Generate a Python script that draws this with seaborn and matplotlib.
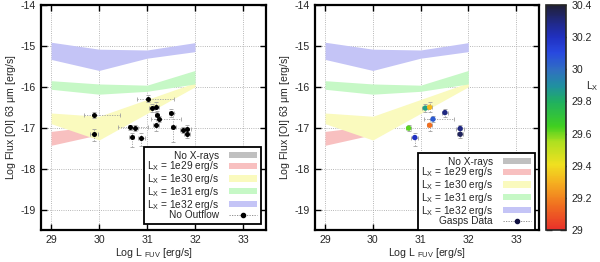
import numpy as np
import matplotlib
matplotlib.use('Agg')
import matplotlib.pyplot as plt
import seaborn as sns
import pandas as pd
from matplotlib.colors import LinearSegmentedColormap, Normalize
from matplotlib.patches import Patch
from matplotlib.lines import Line2D
from matplotlib.cm import ScalarMappable

# ---------------- data ----------------
band_x = [29, 30, 31, 32]
b32_hi = [-14.91, -15.08, -15.10, -14.92]
b32_lo = [-15.33, -15.60, -15.30, -15.14]
b31_hi = [-15.85, -15.93, -15.96, -15.60]
b31_lo = [-16.06, -16.18, -16.11, -15.93]
b30_x = [29, 30, 32]
b30_hi = [-16.64, -16.72, -15.90]
b30_lo = [-16.90, -17.30, -16.00]
b29_x = [29, 30]
b29_hi = [-17.09, -16.95]
b29_lo = [-17.43, -17.17]

lfuv = [29.90, 29.89, 31.01, 31.10, 31.19, 31.21, 31.26, 31.19, 31.51,
        31.55, 30.64, 30.75, 30.68, 30.88, 31.76, 31.83, 31.83]
flux = [-16.69, -17.16, -16.29, -16.52, -16.50, -16.68, -16.79, -16.94, -16.63,
        -16.99, -16.99, -17.01, -17.23, -17.24, -17.05, -17.02, -17.16]
xerr_lo = [0.22, 0.08, 0.22, 0.06, 0.06, 0.05, 0.18, 0.06, 0.06,
           0.05, 0.24, 0.06, 0.05, 0.07, 0.08, 0.08, 0.06]
xerr_hi = [0.54, 0.08, 0.56, 0.06, 0.06, 0.05, 0.45, 0.06, 0.06,
           0.05, 0.37, 0.06, 0.05, 0.07, 0.08, 0.08, 0.06]
yerr_lo = [0.07, 0.17, 0.08, 0.10, 0.12, 0.10, 0.08, 0.15, 0.10,
           0.35, 0.06, 0.08, 0.25, 0.20, 0.08, 0.08, 0.10]
yerr_hi = [0.07, 0.14, 0.08, 0.10, 0.12, 0.10, 0.08, 0.15, 0.10,
           0.35, 0.06, 0.08, 0.10, 0.10, 0.08, 0.08, 0.10]

gasps_idx = [3, 4, 8, 6, 7, 11, 13, 15, 16]
gasps_lx = [29.85, 29.32, 30.30, 30.05, 29.15, 29.62, 30.20, 30.30, 30.35]

xticks = [29, 30, 31, 32, 33]
yticks = [-14, -15, -16, -17, -18, -19]
cb_ticks = [29, 29.2, 29.4, 29.6, 29.8, 30, 30.2, 30.4]
cb_ticklabels = ['29', '29.2', '29.4', '29.6', '29.8', '30', '30.2', '30.4']

legend_labels = ['No X-rays',
                 r'L$_\mathrm{X}$ = 1e29 erg/s',
                 r'L$_\mathrm{X}$ = 1e30 erg/s',
                 r'L$_\mathrm{X}$ = 1e31 erg/s',
                 r'L$_\mathrm{X}$ = 1e32 erg/s']

# ---------------- style ----------------
sns.set_style('ticks')
plt.rcParams['font.family'] = ['Liberation Sans', 'DejaVu Sans']
plt.rcParams['mathtext.fontset'] = 'custom'
plt.rcParams['mathtext.rm'] = 'Liberation Sans'
plt.rcParams['mathtext.it'] = 'Liberation Sans:italic'
FS = 7.6
LFS = 7.3
plt.rcParams['font.size'] = FS

c_gray = '#c0c0c0'
c_red = '#f8c0c0'
c_yel = '#fafabe'
c_grn = '#c6f8c6'
c_blu = '#c4c4f6'

cmap = LinearSegmentedColormap.from_list('lx', [
    (0.0, '#e8302a'), (0.11, '#f07020'), (0.21, '#f5b020'), (0.29, '#f0e020'),
    (0.39, '#b0e020'), (0.46, '#40d020'), (0.57, '#20b060'), (0.64, '#2090a0'),
    (0.71, '#3070c0'), (0.79, '#2848e0'), (0.86, '#2030c0'), (0.93, '#202880'),
    (1.0, '#202038')])
norm = Normalize(29, 30.4)

W, H = 600, 262
fig = plt.figure(figsize=(6, 2.62), dpi=100)
ax1 = fig.add_axes([41 / W, 32 / H, 225 / W, 225 / H])
ax2 = fig.add_axes([315 / W, 32 / H, 224 / W, 225 / H])
cax = fig.add_axes([546 / W, 32 / H, 20 / W, 225 / H])


def draw_bands(ax):
    ax.fill_between(b29_x, b29_lo, b29_hi, color=c_red, lw=0, zorder=1)
    ax.fill_between(b30_x, b30_lo, b30_hi, color=c_yel, lw=0, zorder=1.1)
    ax.fill_between(band_x, b31_lo, b31_hi, color=c_grn, lw=0, zorder=1.2)
    ax.fill_between(band_x, b32_lo, b32_hi, color=c_blu, lw=0, zorder=1.3)


def style_axes(ax):
    ax.set_xlim(28.79, 33.48)
    ax.set_ylim(-19.5, -14)
    ax.set_xticks(xticks)
    ax.set_xticklabels([str(t) for t in xticks])
    ax.set_yticks(yticks)
    ax.set_yticklabels([str(t) for t in yticks])
    ax.tick_params(direction='in', length=4, width=1.0, top=True, right=True,
                   labelsize=FS, pad=3.5, color='black')
    ax.grid(True, color='#a0a0a0', linestyle=':', linewidth=0.6, zorder=0)
    ax.set_axisbelow(True)
    for s in ax.spines.values():
        s.set_linewidth(1.6)
        s.set_color('black')
    ax.set_xlabel(r'Log L $_\mathrm{FUV}$ [erg/s]', fontsize=FS, labelpad=1)
    ax.set_ylabel(r'Log Flux [OI] 63 $\mathrm{\mu}$m [erg/s]', fontsize=FS, labelpad=2)


def errbars(ax, idx):
    xs = [lfuv[i] for i in idx]
    ys = [flux[i] for i in idx]
    xe = [[xerr_lo[i] for i in idx], [xerr_hi[i] for i in idx]]
    ye = [[yerr_lo[i] for i in idx], [yerr_hi[i] for i in idx]]
    eb = ax.errorbar(xs, ys, xerr=xe, yerr=ye, fmt='none', ecolor='#a0a0a0',
                     elinewidth=0.6, capsize=1.2, capthick=0.6, zorder=3)
    for lc in eb[2]:
        lc.set_linestyle((0, (1.5, 1.5)))


def make_legend(ax, last_label, dot_color, anchor):
    h = [Patch(facecolor=c, edgecolor='none') for c in [c_gray, c_red, c_yel, c_grn, c_blu]]
    h.append(Line2D([], [], color='#808080', linestyle=(0, (1.5, 1.5)), linewidth=0.6,
                    marker='o', markersize=3, markerfacecolor=dot_color,
                    markeredgecolor=dot_color))
    leg = ax.legend(h, legend_labels + [last_label], loc='lower right',
                    bbox_to_anchor=anchor, borderaxespad=0,
                    markerfirst=False, frameon=True, fancybox=False, edgecolor='black',
                    framealpha=1, fontsize=LFS, handlelength=2.8, handletextpad=1.0,
                    labelspacing=-0.12, borderpad=0.35, handleheight=0.55)
    leg.get_frame().set_linewidth(1.3)
    leg.set_zorder(10)
    return leg


# ---------------- left panel ----------------
draw_bands(ax1)
errbars(ax1, list(range(len(lfuv))))
df1 = pd.DataFrame({'lfuv': lfuv, 'flux': flux})
sns.scatterplot(data=df1, x='lfuv', y='flux', ax=ax1, color='black', s=13,
                edgecolor='black', linewidth=0, zorder=5, legend=False)
style_axes(ax1)
make_legend(ax1, 'No Outflow', 'black', (1 - 5 / 225, 6 / 225))

# ---------------- right panel ----------------
draw_bands(ax2)
errbars(ax2, gasps_idx)
df2 = pd.DataFrame({'lfuv': [lfuv[i] for i in gasps_idx],
                    'flux': [flux[i] for i in gasps_idx],
                    'lx': gasps_lx})
sns.scatterplot(data=df2, x='lfuv', y='flux', hue='lx', palette=cmap, hue_norm=norm,
                ax=ax2, s=15, linewidth=0, zorder=5, legend=False)
style_axes(ax2)
make_legend(ax2, 'Gasps Data', '#101040', (1 - 4 / 224, 0))

# ---------------- colorbar ----------------
sm = ScalarMappable(norm=norm, cmap=cmap)
cb = fig.colorbar(sm, cax=cax)
cb.set_ticks(cb_ticks)
cb.set_ticklabels(cb_ticklabels)
cb.ax.tick_params(direction='in', length=4, width=1.0, left=True, right=True,
                  labelsize=FS, pad=4)
cb.outline.set_linewidth(1.2)
cax.text(2.3, 0.64, r'L$_\mathrm{X}$', transform=cax.transAxes, fontsize=FS,
         ha='center', va='center')

fig.savefig('out.png', dpi=100)
